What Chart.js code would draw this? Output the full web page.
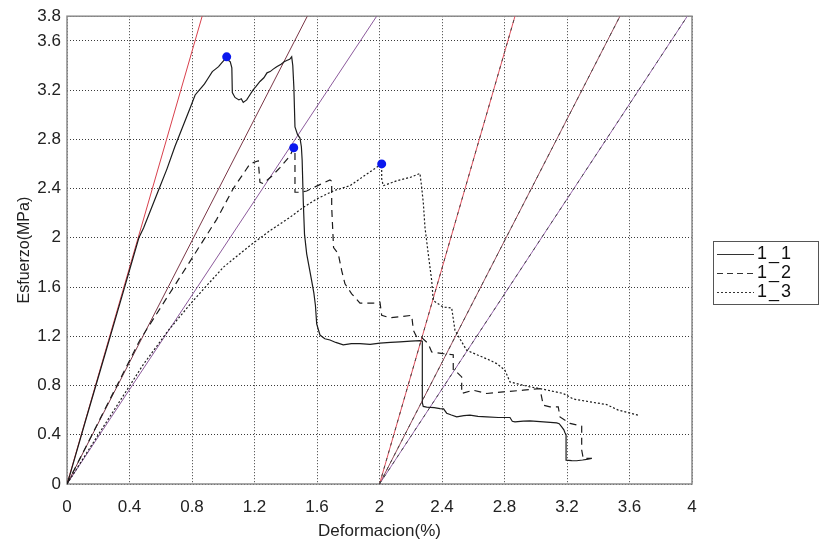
<!DOCTYPE html>
<html>
<head>
<meta charset="utf-8">
<script src="https://cdn.jsdelivr.net/npm/chart.js@4/dist/chart.umd.min.js"></script>
<style>
  html, body { margin: 0; padding: 0; background: #ffffff; }
  canvas { display: block; }
</style>
</head>
<body>
<canvas id="c" width="825" height="542"></canvas>
<script>
// Axis ticks
const xTicks = [0, 0.4, 0.8, 1.2, 1.6, 2, 2.4, 2.8, 3.2, 3.6, 4];
const xTickLabels = ['0', '0.4', '0.8', '1.2', '1.6', '2', '2.4', '2.8', '3.2', '3.6', '4'];
const yTicks = [0, 0.4, 0.8, 1.2, 1.6, 2, 2.4, 2.8, 3.2, 3.6, 3.8];
const yTickLabels = ['0', '0.4', '0.8', '1.2', '1.6', '2', '2.4', '2.8', '3.2', '3.6', '3.8'];

// Specimen names
const seriesNames = ['1_1', '1_2', '1_3'];

// Stress-strain curves: [deformacion %, esfuerzo MPa]
const curve11 = [
  [0, 0], [0.02, 0.08], [0.12, 0.52], [0.24, 1.04], [0.36, 1.56], [0.46, 2.0], [0.49, 2.08],
  [0.54, 2.24], [0.59, 2.4], [0.64, 2.56], [0.69, 2.74], [0.74, 2.9], [0.79, 3.06], [0.82, 3.16],
  [0.86, 3.22], [0.88, 3.25], [0.9, 3.29], [0.93, 3.35], [0.95, 3.37], [0.97, 3.39], [0.99, 3.42],
  [1.01, 3.45], [1.022, 3.47], [1.035, 3.44], [1.045, 3.43], [1.055, 3.38], [1.058, 3.18],
  [1.075, 3.14], [1.1, 3.12], [1.115, 3.13], [1.128, 3.1], [1.15, 3.12], [1.17, 3.16], [1.19, 3.2],
  [1.21, 3.23], [1.235, 3.27], [1.26, 3.3], [1.28, 3.34], [1.3, 3.35], [1.32, 3.37], [1.342, 3.39],
  [1.37, 3.41], [1.39, 3.43], [1.406, 3.44], [1.425, 3.45], [1.438, 3.47], [1.445, 3.4],
  [1.452, 3.22], [1.459, 2.9], [1.475, 2.84], [1.491, 2.81], [1.5, 2.74], [1.505, 2.63],
  [1.512, 2.3], [1.52, 2.03], [1.534, 1.87], [1.55, 1.76], [1.566, 1.65], [1.58, 1.55],
  [1.59, 1.45], [1.598, 1.3], [1.619, 1.21], [1.65, 1.18], [1.683, 1.17], [1.72, 1.15],
  [1.768, 1.13], [1.82, 1.14], [1.875, 1.14], [1.94, 1.135], [2.003, 1.145], [2.07, 1.15],
  [2.131, 1.155], [2.2, 1.16], [2.259, 1.165], [2.274, 1.16], [2.274, 0.66], [2.28, 0.63],
  [2.302, 0.625], [2.35, 0.62], [2.387, 0.613], [2.41, 0.61], [2.43, 0.575], [2.46, 0.56],
  [2.494, 0.545], [2.54, 0.555], [2.579, 0.56], [2.63, 0.55], [2.686, 0.545], [2.76, 0.54],
  [2.835, 0.54], [2.85, 0.51], [2.867, 0.505], [2.92, 0.51], [2.963, 0.513], [3.05, 0.505],
  [3.134, 0.497], [3.15, 0.49], [3.166, 0.464], [3.18, 0.44], [3.187, 0.416], [3.194, 0.4],
  [3.194, 0.194], [3.23, 0.19], [3.262, 0.189], [3.3, 0.195], [3.326, 0.2], [3.358, 0.208]
];

const curve12 = [
  [0, 0], [0.2, 0.5], [0.467, 1.17], [0.723, 1.68], [0.958, 2.15], [1.064, 2.4], [1.171, 2.6],
  [1.224, 2.626], [1.235, 2.45], [1.256, 2.44], [1.31, 2.5], [1.363, 2.57], [1.427, 2.666],
  [1.451, 2.731], [1.459, 2.69], [1.459, 2.37], [1.491, 2.37], [1.534, 2.38], [1.598, 2.42],
  [1.683, 2.47], [1.694, 2.46], [1.694, 2.25], [1.706, 1.92], [1.736, 1.87], [1.758, 1.734],
  [1.779, 1.626], [1.822, 1.545], [1.875, 1.469], [1.96, 1.469], [2.003, 1.477], [2.014, 1.37],
  [2.067, 1.35], [2.206, 1.37], [2.217, 1.248], [2.238, 1.194], [2.27, 1.19], [2.312, 1.14],
  [2.334, 1.072], [2.408, 1.059], [2.472, 1.05], [2.472, 0.924], [2.494, 0.91], [2.526, 0.87],
  [2.526, 0.735], [2.6, 0.762], [2.686, 0.735], [2.792, 0.748], [2.92, 0.762], [3.027, 0.775],
  [3.048, 0.64], [3.091, 0.626], [3.144, 0.626], [3.155, 0.545], [3.219, 0.492], [3.294, 0.47],
  [3.294, 0.276], [3.304, 0.208], [3.358, 0.208]
];

const curve13 = [
  [0, 0], [0.2, 0.4], [0.488, 0.97], [0.65, 1.25], [0.808, 1.49], [1.0, 1.76], [1.171, 1.937],
  [1.299, 2.058], [1.427, 2.166], [1.512, 2.247], [1.598, 2.315], [1.706, 2.382], [1.811, 2.423],
  [1.918, 2.517], [2.014, 2.6], [2.014, 2.48], [2.024, 2.423], [2.11, 2.463], [2.195, 2.49],
  [2.259, 2.523], [2.27, 2.41], [2.281, 2.275], [2.291, 2.085], [2.312, 1.87], [2.334, 1.653],
  [2.344, 1.49], [2.408, 1.437], [2.462, 1.43], [2.483, 1.248], [2.558, 1.086], [2.707, 1.005],
  [2.75, 0.978], [2.803, 0.924], [2.835, 0.829], [2.963, 0.789], [3.027, 0.775], [3.177, 0.735],
  [3.24, 0.69], [3.454, 0.645], [3.528, 0.6], [3.656, 0.559]
];

// Marked maximum of each specimen
const peakPoints = [[1.022, 3.47], [1.451, 2.731], [2.014, 2.6]];

// Elastic slope lines through the origin and their offset copies (endpoints)
const slopeLineA = [[0, 0], [0.865, 3.8]];
const slopeLineB = [[0, 0], [1.538, 3.8]];
const slopeLineC = [[0, 0], [1.982, 3.8]];
const offsetLineA = [[2, 0], [2.867, 3.8]];
const offsetLineB = [[2, 0], [3.539, 3.8]];
const offsetLineC = [[2, 0], [3.97, 3.8]];

const toXY = arr => arr.map(p => ({ x: p[0], y: p[1] }));
const FONT = '"Liberation Sans", Arial, sans-serif';

function lineSet(data, color, width, dash, order) {
  return {
    data: toXY(data), showLine: true, borderColor: color, borderWidth: width,
    borderDash: dash, pointRadius: 0, fill: false, tension: 0, order: order
  };
}

const datasets = [
  { label: 'peaks', data: toXY(peakPoints), showLine: false, pointRadius: 4.5,
    pointBackgroundColor: '#0b18ee', pointBorderColor: '#0b18ee', pointBorderWidth: 0, order: 0 },
  Object.assign(lineSet(curve11, '#1c1c1c', 1.2, [], 1), { label: seriesNames[0] }),
  Object.assign(lineSet(curve12, '#1c1c1c', 1.2, [7, 5], 2), { label: seriesNames[1] }),
  Object.assign(lineSet(curve13, '#1c1c1c', 1.2, [2, 2], 3), { label: seriesNames[2] }),
  lineSet(slopeLineA, '#d8404c', 1, [], 5),
  lineSet(slopeLineB, '#7a3646', 1, [], 5),
  lineSet(slopeLineC, '#8c5a9c', 1, [], 5),
  lineSet(offsetLineA, '#444', 1, [3, 5], 4),
  lineSet(offsetLineB, '#444', 1, [3, 5], 4),
  lineSet(offsetLineC, '#444', 1, [3, 5], 4),
  lineSet(offsetLineA, '#e2505e', 1, [], 6),
  lineSet(offsetLineB, '#9a5060', 1, [], 6),
  lineSet(offsetLineC, '#9a6aae', 1, [], 6)
];

// Gray frame around the plotting area
const frame = {
  id: 'frame',
  beforeDatasetsDraw(chart) {
    const { ctx, chartArea: a } = chart;
    ctx.save();
    ctx.strokeStyle = '#8a8a8a';
    ctx.lineWidth = 1.5;
    ctx.strokeRect(a.left, a.top, a.right - a.left, a.bottom - a.top);
    ctx.restore();
  }
};

// Boxed legend to the right of the plot
const legendBox = {
  id: 'legendBox',
  afterDraw(chart) {
    const ctx = chart.ctx;
    ctx.save();
    ctx.fillStyle = '#ffffff';
    ctx.fillRect(713, 241, 106, 64);
    ctx.strokeStyle = '#555';
    ctx.lineWidth = 1;
    ctx.strokeRect(713.5, 241.5, 105, 63);
    const rows = [254, 273, 292];
    const dashes = [[], [6, 4], [2, 2]];
    rows.forEach((y, i) => {
      ctx.setLineDash(dashes[i]);
      ctx.strokeStyle = '#333';
      ctx.lineWidth = 1.2;
      ctx.beginPath();
      ctx.moveTo(717, y + 0.5);
      ctx.lineTo(754, y + 0.5);
      ctx.stroke();
      ctx.setLineDash([]);
      ctx.fillStyle = '#111';
      ctx.font = '18px ' + FONT;
      ctx.letterSpacing = '2px';
      ctx.textBaseline = 'middle';
      ctx.textAlign = 'left';
      ctx.fillText(seriesNames[i], 757, y);
    });
    ctx.restore();
  }
};

const gridStyle = { color: '#3a3a3a', lineWidth: 1, drawTicks: false };

new Chart(document.getElementById('c'), {
  type: 'scatter',
  data: { datasets },
  options: {
    responsive: false,
    animation: false,
    events: [],
    layout: { padding: { left: 0, top: 15, right: 133, bottom: 0 } },
    plugins: { legend: { display: false }, tooltip: { enabled: false } },
    scales: {
      x: {
        type: 'linear', min: 0, max: 4,
        afterBuildTicks: s => { s.ticks = xTicks.map(v => ({ value: v })); },
        afterFit: s => { s.height = 58; },
        ticks: { autoSkip: false, maxRotation: 0, padding: 13, color: '#222',
                 font: { family: FONT, size: 17 },
                 callback: (v, i) => xTickLabels[i] },
        grid: gridStyle,
        border: { display: false, dash: [1, 2] },
        title: { display: true, text: 'Deformacion(%)', color: '#222',
                 font: { family: FONT, size: 17 }, padding: { top: 0, bottom: 0 } }
      },
      y: {
        type: 'linear', min: 0, max: 3.8,
        afterBuildTicks: s => { s.ticks = yTicks.map(v => ({ value: v })); },
        afterFit: s => { s.width = 67; },
        ticks: { autoSkip: false, padding: 6, color: '#222',
                 font: { family: FONT, size: 17 },
                 callback: (v, i) => yTickLabels[i] },
        grid: gridStyle,
        border: { display: false, dash: [1, 2] },
        title: { display: true, text: 'Esfuerzo(MPa)', color: '#222',
                 font: { family: FONT, size: 16 }, padding: { top: 15, bottom: 0 } }
      }
    }
  },
  plugins: [frame, legendBox]
});
</script>
</body>
</html>
